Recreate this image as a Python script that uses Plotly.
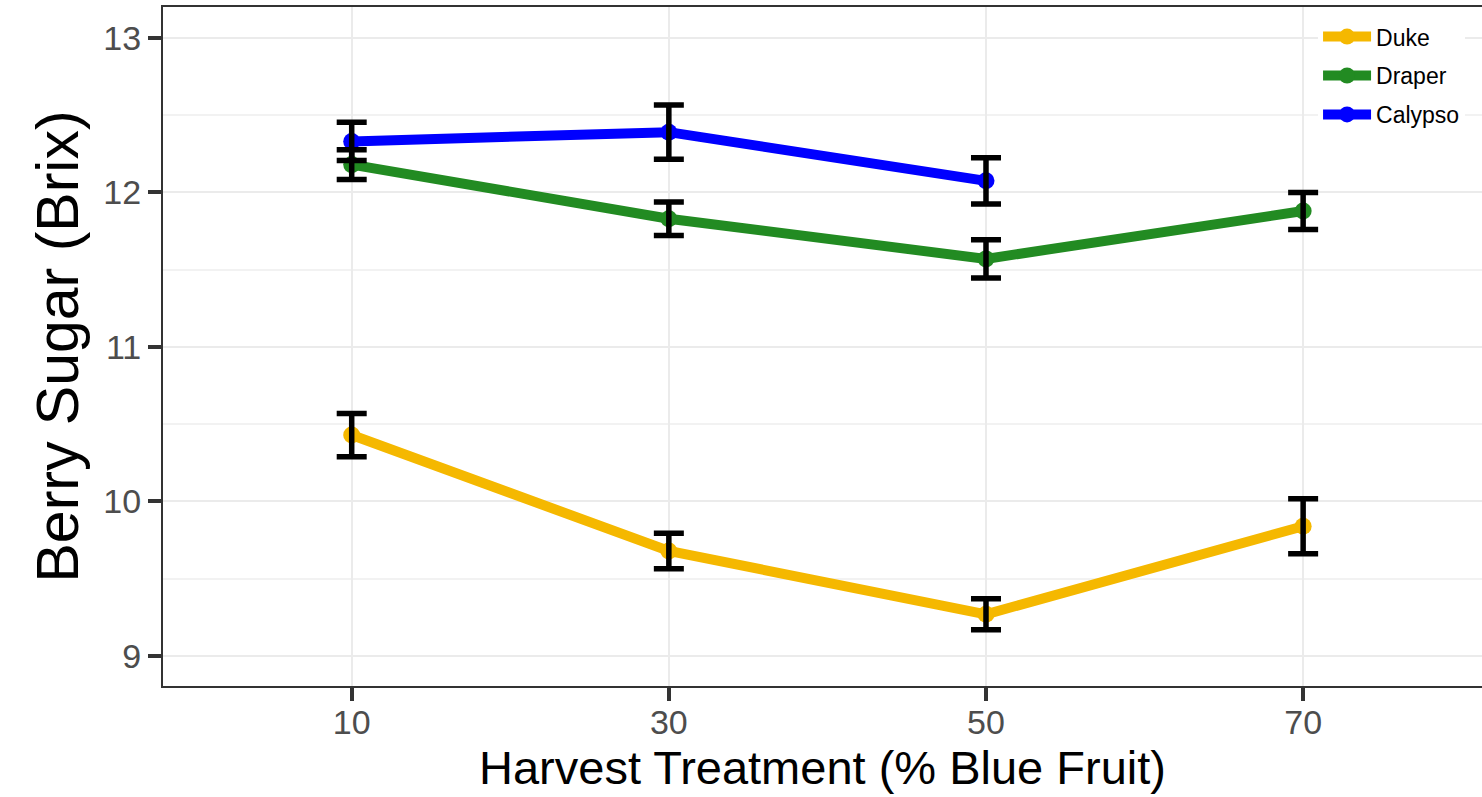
import plotly.graph_objects as go

treatment = [10, 30, 50, 70]
duke = [10.43, 9.68, 9.27, 9.84]
duke_se = [0.14, 0.115, 0.10, 0.178]
draper = [12.18, 11.83, 11.57, 11.88]
draper_se = [0.097, 0.108, 0.124, 0.12]
calypso_x = [10, 30, 50]
calypso = [12.33, 12.39, 12.075]
calypso_se = [0.124, 0.176, 0.15]

series = [
    ("Duke", treatment, duke, duke_se, "#F5B800"),
    ("Draper", treatment, draper, draper_se, "#228B22"),
    ("Calypso", calypso_x, calypso, calypso_se, "#0000FF"),
]

fig = go.Figure()
for name, xs, ys, se, col in series:
    fig.add_trace(go.Scatter(
        x=xs, y=ys, name=name, mode="lines+markers", legendgroup=name,
        line=dict(color=col, width=10),
        marker=dict(color=col, size=17),
    ))
for name, xs, ys, se, col in series:
    fig.add_trace(go.Scatter(
        x=xs, y=ys, mode="markers", showlegend=False, hoverinfo="skip",
        marker=dict(size=1, color="rgba(0,0,0,0)"),
        error_y=dict(type="data", array=se, visible=True, color="black",
                     thickness=5.5, width=15),
    ))

fig.update_layout(
    width=1482, height=797, autosize=False,
    margin=dict(l=163, r=0, t=7, b=111),
    paper_bgcolor="white", plot_bgcolor="white",
    font=dict(family="Liberation Sans, Arial, sans-serif"),
    legend=dict(
        x=0.8757, xanchor="left", y=0.988, yanchor="top",
        bgcolor="white", font=dict(size=23, color="black"),
        tracegroupgap=6, itemwidth=48,
    ),
)
fig.update_xaxes(
    range=[-1.9, 81.28], tickvals=treatment, ticktext=[str(t) for t in treatment],
    showgrid=True, gridcolor="#EBEBEB", gridwidth=2,
    showline=True, linecolor="#333333", linewidth=2, mirror=True,
    ticks="outside", ticklen=13, tickwidth=4, tickcolor="#333333",
    tickfont=dict(size=34, color="#4D4D4D"), ticklabelstandoff=-8,
    title=dict(text="Harvest Treatment (% Blue Fruit)", font=dict(size=47, color="black"), standoff=10),
    zeroline=False,
)
fig.update_yaxes(
    range=[8.806, 13.2], tickvals=[9, 10, 11, 12, 13],
    showgrid=True, gridcolor="#EBEBEB", gridwidth=2,
    minor=dict(dtick=0.5, tick0=9, showgrid=True, gridcolor="#F2F2F2", gridwidth=1.5, ticks=""),
    showline=True, linecolor="#333333", linewidth=2, mirror=False,
    ticks="outside", ticklen=13, tickwidth=4, tickcolor="#333333",
    tickfont=dict(size=34, color="#4D4D4D"),
    title=dict(text="Berry Sugar (Brix)", font=dict(size=59, color="black"), standoff=6),
    zeroline=False,
)

fig.write_html("out.html")
